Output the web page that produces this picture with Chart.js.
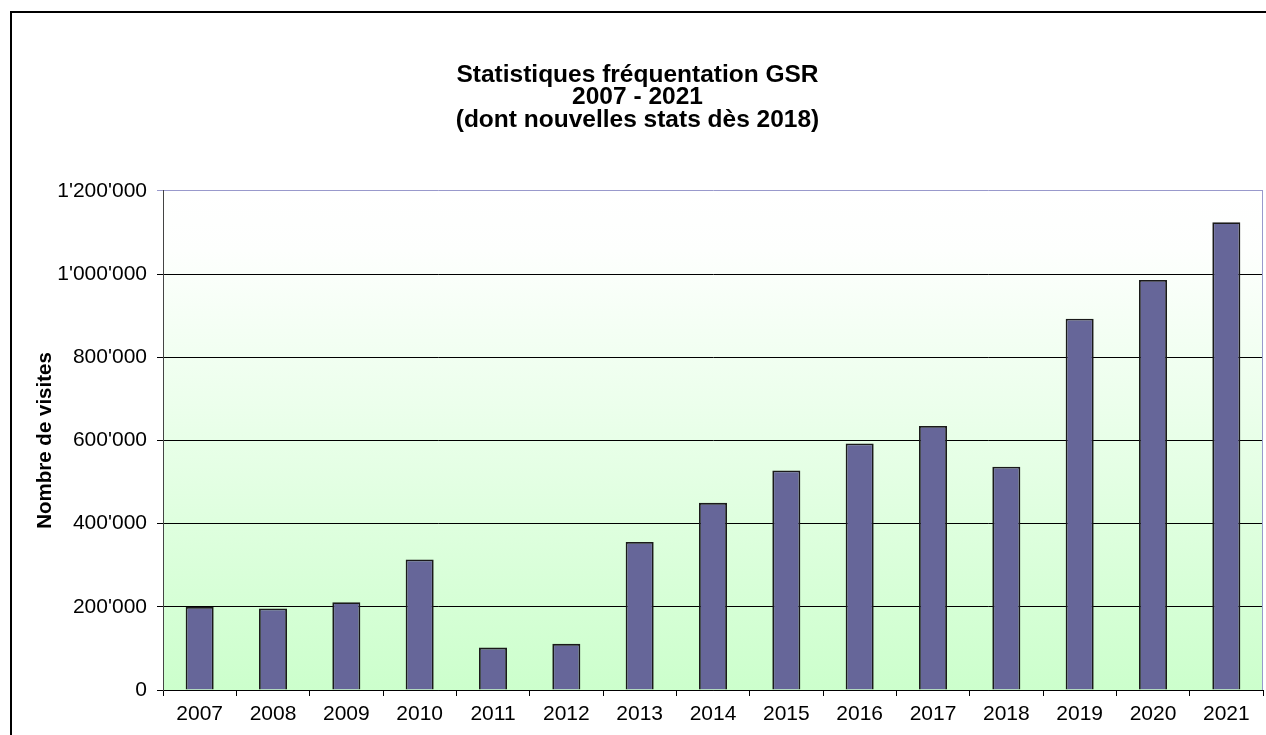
<!DOCTYPE html>
<html>
<head>
<meta charset="utf-8">
<script src="https://cdn.jsdelivr.net/npm/chart.js@4"></script>
<style>
  html, body { margin: 0; padding: 0; background: #fff; }
  #wrap { position: absolute; left: 0; top: 0; width: 1266px; height: 735px; }
</style>
</head>
<body>
<div id="wrap"><canvas id="c" width="1266" height="735"></canvas></div>
<script>
const years = ['2007','2008','2009','2010','2011','2012','2013','2014','2015','2016','2017','2018','2019','2020','2021'];
const visits = [200000, 196000, 211000, 314000, 102000, 111000, 356000, 450000, 528000, 593000, 635000, 537000, 893000, 986000, 1125000];
const titleLines = ['Statistiques fréquentation GSR', '2007 - 2021', '(dont nouvelles stats dès 2018)'];
const yAxisTitle = 'Nombre de visites';
const yMax = 1200000;
const yStep = 200000;

const FONT = "'Liberation Sans', Arial, sans-serif";

function fmt(v) {
  return String(v).replace(/\B(?=(\d{3})+(?!\d))/g, "'");
}

const decor = {
  id: 'decor',
  beforeDraw(chart) {
    const {ctx, chartArea: a} = chart;
    ctx.save();
    ctx.fillStyle = '#ffffff';
    ctx.fillRect(0, 0, chart.width, chart.height);
    const g = ctx.createLinearGradient(0, a.top, 0, a.bottom);
    g.addColorStop(0, '#ffffff');
    g.addColorStop(0.12, '#fdfffd');
    g.addColorStop(1, '#ccffcc');
    ctx.fillStyle = g;
    ctx.fillRect(a.left, a.top, a.right - a.left, a.bottom - a.top);
    ctx.restore();
  },
  afterDraw(chart) {
    const {ctx, chartArea: a} = chart;
    ctx.save();
    // outer frame
    ctx.strokeStyle = '#000';
    ctx.lineWidth = 2;
    ctx.beginPath();
    ctx.moveTo(11, 900);
    ctx.lineTo(11, 12);
    ctx.lineTo(1400, 12);
    ctx.stroke();
    // plot right border
    ctx.strokeStyle = '#9999cc';
    ctx.lineWidth = 1;
    ctx.beginPath();
    ctx.moveTo(Math.round(a.right) - 0.5, a.top);
    ctx.lineTo(Math.round(a.right) - 0.5, a.bottom);
    ctx.stroke();
    ctx.restore();
  }
};

new Chart(document.getElementById('c'), {
  type: 'bar',
  data: {
    labels: years,
    datasets: [{
      data: visits,
      backgroundColor: '#666699',
      borderColor: '#1a1a1a',
      borderWidth: 1.8,
      barPercentage: 0.382,
      categoryPercentage: 1.0
    }]
  },
  options: {
    responsive: false,
    animation: false,
    devicePixelRatio: 1,
    layout: { padding: { left: 12, right: 3, top: 0, bottom: 0 } },
    plugins: {
      legend: { display: false },
      tooltip: { enabled: false },
      title: {
        display: true,
        text: titleLines,
        color: '#000',
        font: { family: FONT, size: 24.5, weight: 'bold', lineHeight: 0.918 },
        padding: { top: 64, bottom: 59.5 }
      }
    },
    scales: {
      x: {
        offset: true,
        grid: {
          offset: true,
          drawOnChartArea: false,
          drawTicks: true,
          tickLength: 6,
          color: '#000'
        },
        border: { display: true, color: '#000', width: 1 },
        ticks: {
          color: '#000',
          font: { family: FONT, size: 21 },
          padding: 6,
          maxRotation: 0,
          autoSkip: false
        },
        afterFit(scale) { scale.height = 45; }
      },
      y: {
        min: 0,
        max: yMax,
        ticks: {
          stepSize: yStep,
          color: '#000',
          font: { family: FONT, size: 21 },
          padding: 10,
          callback: (v) => fmt(v)
        },
        grid: {
          color: (c) => (c.tick && c.tick.value === yMax) ? '#9999cc' : '#000',
          lineWidth: 1,
          drawTicks: true,
          tickLength: 6
        },
        border: { display: true, color: '#444', width: 1 },
        title: {
          display: true,
          text: yAxisTitle,
          color: '#000',
          font: { family: FONT, size: 20.5, weight: 'bold', lineHeight: 1.2 },
          padding: { top: 21, bottom: 0 }
        },
        afterFit(scale) { scale.width = 151; }
      }
    }
  },
  plugins: [decor]
});
</script>
</body>
</html>
